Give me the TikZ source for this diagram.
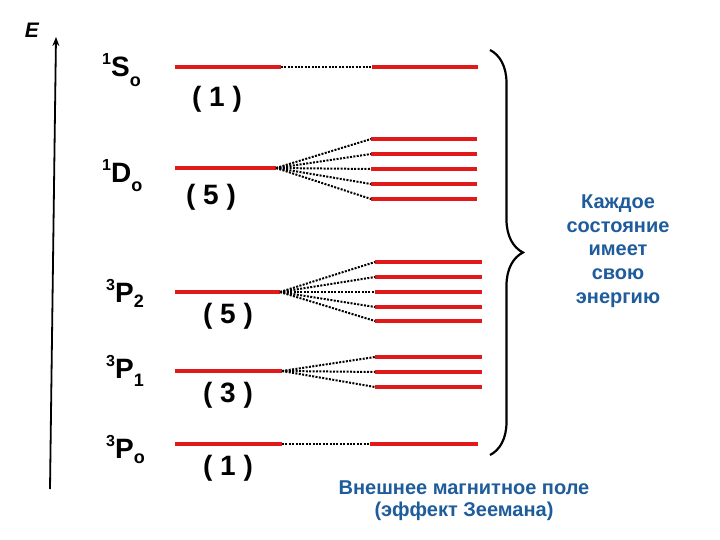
\documentclass[tikz,border=0pt]{standalone}
\usepackage{fontspec}
\setmainfont{Liberation Sans}
\usetikzlibrary{decorations.pathreplacing,arrows.meta}
\definecolor{lvl}{RGB}{225,25,25}
\definecolor{txtblue}{RGB}{30,92,155}
\newcommand{\tlab}[4]{\raisebox{12pt}{\fontsize{16}{16}\selectfont #1}#2\raisebox{-#4pt}{\fontsize{18}{18}\selectfont #3}}
\begin{document}
\begin{tikzpicture}[x=1pt,y=-1pt,
  level/.style={draw=lvl, line width=4pt},
  fan/.style={draw=black, line width=2pt, dash pattern=on 2pt off 1.4pt},
  lab/.style={inner sep=0pt, font=\bfseries\fontsize{28}{28}\selectfont},
  deg/.style={inner sep=0pt, anchor=base, font=\bfseries\fontsize{28}{28}\selectfont},
  note/.style={inner sep=0pt, align=center, text=txtblue}]
\useasboundingbox (0,0) rectangle (720,540);

% energy axis
\coordinate (Ebot) at (50,489);
\coordinate (Etop) at (56,37);
\draw[line width=1.8pt, -{Stealth[length=9pt,width=7pt]}] (Ebot) -- (Etop);
\node[inner sep=0pt, font=\bfseries\itshape\fontsize{21}{21}\selectfont] (E) at (32,30) {E};

% term labels
\node[lab, anchor=base west] (tS) at (102,77) {\tlab{1}{S}{o}{10}};
\node[lab, anchor=base west] (tD) at (102,183) {\tlab{1}{D}{o}{9}};
\node[lab, anchor=base west] (tP2) at (106,302) {\tlab{3}{P}{2}{5}};
\node[lab, anchor=base west] (tP1) at (106,378) {\tlab{3}{P}{1}{8}};
\node[lab, anchor=base west] (tP0) at (106,458) {\tlab{3}{P}{o}{5}};

% degeneracies
\node[deg] (dS) at (217,107) {( 1 )};
\node[deg] (dD) at (211,205) {( 5 )};
\node[deg] (dP2) at (228,323) {( 5 )};
\node[deg] (dP1) at (228,402) {( 3 )};
\node[deg] (dP0) at (228,475) {( 1 )};

% left levels
\coordinate (SL) at (175,67);  \coordinate (SR) at (281,67);
\coordinate (DL) at (175,168); \coordinate (DR) at (276,168);
\coordinate (P2L) at (175,292); \coordinate (P2R) at (280,292);
\coordinate (P1L) at (175,371); \coordinate (P1R) at (282,371);
\coordinate (P0L) at (175,444); \coordinate (P0R) at (282,444);
\foreach \n in {S,D,P2,P1,P0} {\draw[level] (\n L) -- (\n R);}

% right (split) levels
\coordinate (SsL) at (372,67); \coordinate (SsR) at (478,67);
\draw[level] (SsL) -- (SsR);
\draw[fan] (SR) -- (SsL);
\coordinate (P0sL) at (370,444); \coordinate (P0sR) at (478,444);
\draw[level] (P0sL) -- (P0sR);
\draw[fan] (P0R) -- (P0sL);

\foreach \y [count=\i] in {139,154,169,184,199} {
  \coordinate (D\i L) at (371,\y); \coordinate (D\i R) at (477,\y);
  \draw[level, line width=3.5pt] (D\i L) -- (D\i R);
  \draw[fan] (DR) -- (D\i L);
}
\foreach \y [count=\i] in {262,277,292,307,321} {
  \coordinate (Pa\i L) at (375,\y); \coordinate (Pa\i R) at (482,\y);
  \draw[level, line width=3.5pt] (Pa\i L) -- (Pa\i R);
  \draw[fan] (P2R) -- (Pa\i L);
}
\foreach \y [count=\i] in {357,372,387} {
  \coordinate (Pb\i L) at (375,\y); \coordinate (Pb\i R) at (482,\y);
  \draw[level, line width=3.5pt] (Pb\i L) -- (Pb\i R);
  \draw[fan] (P1R) -- (Pb\i L);
}

% brace
\coordinate (Btop) at (490,50);
\coordinate (Bbot) at (490,455);
\draw[line width=2.2pt, decorate, decoration={brace, amplitude=33pt, aspect=0.5}] (Btop) -- (Bbot);

% notes
\node[note, font=\bfseries\fontsize{20}{23.8}\selectfont] (each) at (618,251)
  {Каждое\\состояние\\имеет\\свою\\энергию};
\node[note, font=\bfseries\fontsize{20}{22}\selectfont] (zeeman) at (464,501)
  {Внешнее магнитное поле\\(эффект Зеемана)};
\end{tikzpicture}
\end{document}
